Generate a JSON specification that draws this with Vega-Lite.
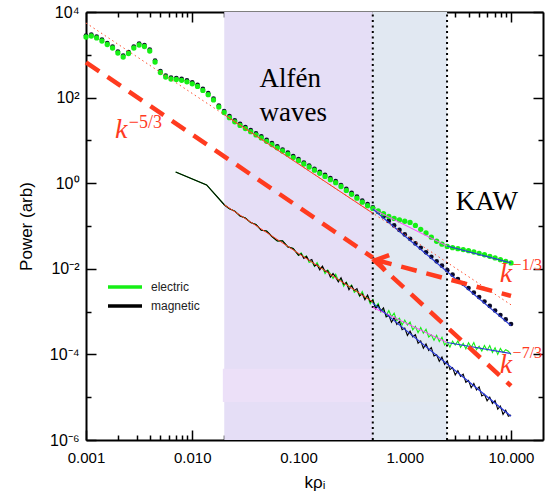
{
  "$schema": "https://vega.github.io/schema/vega-lite/v6.json",
  "width": 457,
  "height": 428,
  "autosize": {"type": "none"},
  "padding": {"left": 86, "top": 12, "right": 2, "bottom": 54},
  "background": "white",
  "config": {"view": {"stroke": null}},
  "datasets": {
    "upper": [
      {"k":0.001,"electric":2606,"magnetic":2606},
      {"k":0.001122,"electric":2748,"magnetic":2748},
      {"k":0.001259,"electric":2472,"magnetic":2472},
      {"k":0.001413,"electric":2099,"magnetic":2099},
      {"k":0.001585,"electric":1740,"magnetic":1740},
      {"k":0.001778,"electric":1442,"magnetic":1442},
      {"k":0.001995,"electric":1102,"magnetic":1102},
      {"k":0.002239,"electric":889,"magnetic":889},
      {"k":0.002512,"electric":1072,"magnetic":1072},
      {"k":0.002818,"electric":1442,"magnetic":1442},
      {"k":0.003162,"electric":1694,"magnetic":1694},
      {"k":0.003548,"electric":1563,"magnetic":1563},
      {"k":0.003981,"electric":1227,"magnetic":1227},
      {"k":0.004467,"electric":679,"magnetic":679},
      {"k":0.005012,"electric":386,"magnetic":386},
      {"k":0.005623,"electric":303,"magnetic":303},
      {"k":0.00631,"electric":272,"magnetic":272},
      {"k":0.007079,"electric":265,"magnetic":265},
      {"k":0.007943,"electric":254,"magnetic":254},
      {"k":0.008913,"electric":234,"magnetic":234},
      {"k":0.01,"electric":210,"magnetic":210},
      {"k":0.01122,"electric":182,"magnetic":182},
      {"k":0.01259,"electric":147,"magnetic":147},
      {"k":0.01413,"electric":117,"magnetic":117},
      {"k":0.01585,"electric":88,"magnetic":88},
      {"k":0.01778,"electric":60.3,"magnetic":60.3},
      {"k":0.01995,"electric":44.9,"magnetic":44.9},
      {"k":0.02239,"electric":33.9,"magnetic":33.9},
      {"k":0.02512,"electric":27.2,"magnetic":27.2},
      {"k":0.02818,"electric":22.4,"magnetic":22.4},
      {"k":0.03162,"electric":18.9,"magnetic":18.9},
      {"k":0.03548,"electric":16.0,"magnetic":16.0},
      {"k":0.03981,"electric":13.4,"magnetic":13.4},
      {"k":0.04467,"electric":11.4,"magnetic":11.4},
      {"k":0.05012,"electric":9.53,"magnetic":9.53},
      {"k":0.05623,"electric":7.98,"magnetic":7.98},
      {"k":0.0631,"electric":6.71,"magnetic":6.71},
      {"k":0.07079,"electric":5.65,"magnetic":5.65},
      {"k":0.07943,"electric":4.76,"magnetic":4.76},
      {"k":0.08913,"electric":3.98,"magnetic":3.98},
      {"k":0.1,"electric":3.36,"magnetic":3.36},
      {"k":0.1122,"electric":2.81,"magnetic":2.81},
      {"k":0.1259,"electric":2.39,"magnetic":2.39},
      {"k":0.1413,"electric":2.01,"magnetic":2.01},
      {"k":0.1585,"electric":1.70,"magnetic":1.70},
      {"k":0.1778,"electric":1.44,"magnetic":1.44},
      {"k":0.1995,"electric":1.21,"magnetic":1.21},
      {"k":0.2239,"electric":1.03,"magnetic":1.03},
      {"k":0.2512,"electric":0.838,"magnetic":0.838},
      {"k":0.2818,"electric":0.679,"magnetic":0.679},
      {"k":0.3162,"electric":0.551,"magnetic":0.551},
      {"k":0.3548,"electric":0.447,"magnetic":0.447},
      {"k":0.3981,"electric":0.360,"magnetic":0.360},
      {"k":0.4467,"electric":0.298,"magnetic":0.298},
      {"k":0.5012,"electric":0.258,"magnetic":0.25},
      {"k":0.5623,"electric":0.224,"magnetic":0.196},
      {"k":0.631,"electric":0.194,"magnetic":0.154},
      {"k":0.7079,"electric":0.167,"magnetic":0.121},
      {"k":0.7943,"electric":0.150,"magnetic":0.0953},
      {"k":0.8913,"electric":0.139,"magnetic":0.0748},
      {"k":1.0,"electric":0.129,"magnetic":0.0587},
      {"k":1.122,"electric":0.121,"magnetic":0.0463},
      {"k":1.259,"electric":0.103,"magnetic":0.0362},
      {"k":1.413,"electric":0.0838,"magnetic":0.0286},
      {"k":1.585,"electric":0.0686,"magnetic":0.0224},
      {"k":1.778,"electric":0.0547,"magnetic":0.0176},
      {"k":1.995,"electric":0.0440,"magnetic":0.0138},
      {"k":2.239,"electric":0.0376,"magnetic":0.0109},
      {"k":2.512,"electric":0.0333,"magnetic":0.00855},
      {"k":2.818,"electric":0.0311,"magnetic":0.00671},
      {"k":3.162,"electric":0.0296,"magnetic":0.0053},
      {"k":3.548,"electric":0.0282,"magnetic":0.00416},
      {"k":3.981,"electric":0.0265,"magnetic":0.00327},
      {"k":4.467,"electric":0.0247,"magnetic":0.00256},
      {"k":5.012,"electric":0.0229,"magnetic":0.00202},
      {"k":5.623,"electric":0.0213,"magnetic":0.00158},
      {"k":6.31,"electric":0.0196,"magnetic":0.00125},
      {"k":7.079,"electric":0.0179,"magnetic":0.00098},
      {"k":7.943,"electric":0.0163,"magnetic":0.000769},
      {"k":8.913,"electric":0.0149,"magnetic":0.000607},
      {"k":10.0,"electric":0.0137,"magnetic":0.000473}
    ],
    "lower": [
      {"k":0.00698,"electric":1.83,"magnetic":1.83},
      {"k":0.01365,"electric":0.908,"magnetic":0.908},
      {"k":0.0201,"electric":0.31,"magnetic":0.31},
      {"k":0.02239,"electric":0.2535,"magnetic":0.2535},
      {"k":0.02512,"electric":0.2228,"magnetic":0.2228},
      {"k":0.02818,"electric":0.1714,"magnetic":0.1714},
      {"k":0.03162,"electric":0.1538,"magnetic":0.1538},
      {"k":0.03548,"electric":0.12,"magnetic":0.12},
      {"k":0.03981,"electric":0.1079,"magnetic":0.1079},
      {"k":0.04467,"electric":0.0794,"magnetic":0.0794},
      {"k":0.05012,"electric":0.0764,"magnetic":0.0764},
      {"k":0.05623,"electric":0.0569,"magnetic":0.0569},
      {"k":0.0631,"electric":0.0447,"magnetic":0.0447},
      {"k":0.07079,"electric":0.0449,"magnetic":0.0449},
      {"k":0.07943,"electric":0.0325,"magnetic":0.0325},
      {"k":0.08913,"electric":0.03,"magnetic":0.03},
      {"k":0.1,"electric":0.0206,"magnetic":0.0206},
      {"k":0.1059,"electric":0.02344,"magnetic":0.02239},
      {"k":0.1122,"electric":0.01862,"magnetic":0.01738},
      {"k":0.1189,"electric":0.01991,"magnetic":0.01945},
      {"k":0.1259,"electric":0.01409,"magnetic":0.01545},
      {"k":0.1334,"electric":0.01507,"magnetic":0.01652},
      {"k":0.1413,"electric":0.0114,"magnetic":0.01167},
      {"k":0.1496,"electric":0.01403,"magnetic":0.0125},
      {"k":0.1585,"electric":0.01038,"magnetic":0.00946},
      {"k":0.1679,"electric":0.01086,"magnetic":0.01164},
      {"k":0.1778,"electric":0.00767,"magnetic":0.00861},
      {"k":0.1884,"electric":0.00942,"magnetic":0.009},
      {"k":0.1995,"electric":0.00766,"magnetic":0.00637},
      {"k":0.2113,"electric":0.00593,"magnetic":0.00782},
      {"k":0.2239,"electric":0.00746,"magnetic":0.00635},
      {"k":0.2371,"electric":0.00527,"magnetic":0.00492},
      {"k":0.2512,"electric":0.00577,"magnetic":0.00618},
      {"k":0.2661,"electric":0.0039,"magnetic":0.00438},
      {"k":0.2818,"electric":0.0049,"magnetic":0.00479},
      {"k":0.2985,"electric":0.00372,"magnetic":0.00324},
      {"k":0.3162,"electric":0.00416,"magnetic":0.00406},
      {"k":0.335,"electric":0.00281,"magnetic":0.00308},
      {"k":0.3548,"electric":0.00315,"magnetic":0.00345},
      {"k":0.3758,"electric":0.00228,"magnetic":0.00233},
      {"k":0.3981,"electric":0.00293,"magnetic":0.00261},
      {"k":0.4217,"electric":0.00202,"magnetic":0.00189},
      {"k":0.4467,"electric":0.00226,"magnetic":0.00243},
      {"k":0.4732,"electric":0.00153,"magnetic":0.00168},
      {"k":0.5012,"electric":0.00192,"magnetic":0.00188},
      {"k":0.5309,"electric":0.001268,"magnetic":0.001172},
      {"k":0.5623,"electric":0.001542,"magnetic":0.001436},
      {"k":0.5957,"electric":0.000982,"magnetic":0.001038},
      {"k":0.631,"electric":0.001114,"magnetic":0.001216},
      {"k":0.6683,"electric":0.000796,"magnetic":0.000748},
      {"k":0.7079,"electric":0.001062,"magnetic":0.000817},
      {"k":0.7499,"electric":0.000759,"magnetic":0.000564},
      {"k":0.7943,"electric":0.000923,"magnetic":0.000724},
      {"k":0.8414,"electric":0.000615,"magnetic":0.0005},
      {"k":0.8913,"electric":0.000698,"magnetic":0.000585},
      {"k":0.9441,"electric":0.000489,"magnetic":0.000377},
      {"k":1.0,"electric":0.000635,"magnetic":0.000412},
      {"k":1.059,"electric":0.000486,"magnetic":0.000278},
      {"k":1.122,"electric":0.000568,"magnetic":0.000348},
      {"k":1.189,"electric":0.000375,"magnetic":0.000258},
      {"k":1.259,"electric":0.000452,"magnetic":0.000288},
      {"k":1.334,"electric":0.00032,"magnetic":0.000182},
      {"k":1.413,"electric":0.000423,"magnetic":0.000207},
      {"k":1.496,"electric":0.000313,"magnetic":0.00014},
      {"k":1.585,"electric":0.000386,"magnetic":0.000176},
      {"k":1.679,"electric":0.000255,"magnetic":0.000124},
      {"k":1.778,"electric":0.000287,"magnetic":0.000145},
      {"k":1.884,"electric":0.000213,"magnetic":0.0000914},
      {"k":1.995,"electric":0.000281,"magnetic":0.0000977},
      {"k":2.113,"electric":0.000199,"magnetic":0.000069},
      {"k":2.239,"electric":0.000251,"magnetic":0.0000865},
      {"k":2.371,"electric":0.000166,"magnetic":0.0000583},
      {"k":2.512,"electric":0.000197,"magnetic":0.00007},
      {"k":2.661,"electric":0.000147,"magnetic":0.0000441},
      {"k":2.818,"electric":0.000204,"magnetic":0.0000492},
      {"k":2.985,"electric":0.000166,"magnetic":0.0000332},
      {"k":3.162,"electric":0.000206,"magnetic":0.0000417},
      {"k":3.35,"electric":0.000147,"magnetic":0.0000308},
      {"k":3.548,"electric":0.000181,"magnetic":0.0000344},
      {"k":3.758,"electric":0.000135,"magnetic":0.0000222},
      {"k":3.981,"electric":0.000187,"magnetic":0.0000248},
      {"k":4.217,"electric":0.000146,"magnetic":0.0000167},
      {"k":4.467,"electric":0.000189,"magnetic":0.000021},
      {"k":4.732,"electric":0.000129,"magnetic":0.0000148},
      {"k":5.012,"electric":0.000155,"magnetic":0.0000174},
      {"k":5.309,"electric":0.00012,"magnetic":0.0000107},
      {"k":5.623,"electric":0.000162,"magnetic":0.0000117},
      {"k":5.957,"electric":0.000125,"magnetic":0.00000824},
      {"k":6.31,"electric":0.000161,"magnetic":0.0000101},
      {"k":6.683,"electric":0.000111,"magnetic":0.00000714},
      {"k":7.079,"electric":0.000143,"magnetic":0.00000836},
      {"k":7.499,"electric":0.0001,"magnetic":0.00000526},
      {"k":7.943,"electric":0.000138,"magnetic":0.00000617},
      {"k":8.414,"electric":0.00011,"magnetic":0.00000397},
      {"k":8.913,"electric":0.000129,"magnetic":0.00000498},
      {"k":9.441,"electric":0.000119,"magnetic":0.0000036},
      {"k":10.0,"electric":0.0000991,"magnetic":0.00000385}
    ]
  },
  "layer": [
    {
      "encoding": {
        "x": {
          "field": "k", "type": "quantitative",
          "scale": {"type": "log", "domain": [0.001, 20], "nice": false},
          "axis": {
            "orient": "bottom",
            "values": [0.001,0.002,0.003,0.004,0.005,0.006,0.007,0.008,0.009,0.01,0.02,0.03,0.04,0.05,0.06,0.07,0.08,0.09,0.1,0.2,0.3,0.4,0.5,0.6,0.7,0.8,0.9,1,2,3,4,5,6,7,8,9,10],
            "labelExpr": "abs(log(datum.value)/LN10 - round(log(datum.value)/LN10)) < 0.001 ? format(datum.value, '.3f') : ''",
            "labelOverlap": false, "labelFlush": false,
            "labelFont": "Liberation Sans", "labelFontSize": 15, "labelColor": "#000",
            "labelPadding": 20,
            "tickSize": {"condition": {"test": "abs(log(datum.value)/LN10 - round(log(datum.value)/LN10)) < 0.001", "value": -10}, "value": -5},
            "tickColor": "#000", "tickWidth": 1.5,
            "domainColor": "#000", "domainWidth": 2,
            "grid": false,
            "title": "kρᵢ", "titleFont": "Liberation Sans", "titleFontSize": 17, "titleFontWeight": "normal", "titleColor": "#000", "titlePadding": 4
          }
        },
        "y": {
          "field": "P", "type": "quantitative",
          "scale": {"type": "log", "domain": [0.000001, 10000], "nice": false},
          "axis": {
            "orient": "left",
            "values": [0.000001,0.00001,0.0001,0.001,0.01,0.1,1,10,100,1000,10000],
            "labelExpr": "['10⁻⁶','','10⁻⁴','','10⁻²','','10⁰','','10²','','10⁴'][round(log(datum.value)/LN10)+6]",
            "labelOverlap": false, "labelFlush": false,
            "labelFont": "Liberation Sans", "labelFontSize": 16, "labelColor": "#000",
            "labelPadding": 17,
            "tickSize": {"condition": {"test": "round(log(datum.value)/LN10) % 2 == 0", "value": -10}, "value": -5},
            "tickColor": "#000", "tickWidth": 1.5,
            "domainColor": "#000", "domainWidth": 2,
            "grid": false,
            "title": "Power (arb)", "titleFont": "Liberation Sans", "titleFontSize": 17, "titleFontWeight": "normal", "titleColor": "#000", "titlePadding": 14
          }
        }
      },
      "layer": [
        {"data": {"values": [{"k":0.02,"k2":0.5,"P":0.000001,"P2":10000}]}, "mark": {"type":"rect","fill":"#e5def6"}, "encoding": {"x2":{"field":"k2"},"y2":{"field":"P2"}}},
        {"data": {"values": [{"k":0.5,"k2":2.5,"P":0.000001,"P2":10000}]}, "mark": {"type":"rect","fill":"#e1e8f2"}, "encoding": {"x2":{"field":"k2"},"y2":{"field":"P2"}}},
        {"data": {"values": [{"k":0.0194,"k2":0.5,"P":0.0000077,"P2":0.000046}]}, "mark": {"type":"rect","fill":"#ece0f8"}, "encoding": {"x2":{"field":"k2"},"y2":{"field":"P2"}}},
        {"data": {"values": [{"k":0.5,"k2":2.5,"P":0.0000077,"P2":0.000046}]}, "mark": {"type":"rect","fill":"#e3e8ee"}, "encoding": {"x2":{"field":"k2"},"y2":{"field":"P2"}}},
        {"data": {"values": [{"k":0.5,"P":0.000001,"P2":10000},{"k":2.5,"P":0.000001,"P2":10000}]}, "mark": {"type":"rule","color":"#000","strokeWidth":2,"strokeDash":[2,3.5]}, "encoding": {"y2":{"field":"P2"}}},
        {
          "data": {"name": "lower"},
          "transform": [{"fold": ["electric","magnetic"], "as": ["s","P"]}],
          "mark": {"type": "line", "strokeWidth": 1.1},
          "encoding": {
            "color": {
              "field": "s", "type": "nominal",
              "scale": {"domain": ["electric","magnetic"], "range": ["#16ef16","#000000"]},
              "legend": {"orient": "none", "legendX": 27, "legendY": 263, "title": null, "symbolType": "M-1.7,0H1.7", "symbolSize": 400, "symbolStrokeWidth": 3.5, "labelFont": "Liberation Sans", "labelFontSize": 12, "labelColor": "#222", "labelOffset": 14, "rowPadding": -3, "padding": 0}
            }
          }
        },
        {
          "data": {"name": "upper"},
          "transform": [{"fold": ["electric","magnetic"], "as": ["s","P"]}, {"filter": "datum.s == 'magnetic'"}],
          "mark": {"type": "point", "filled": true, "size": 22, "color": "#0a0a28", "opacity": 1, "yOffset": -1.5}
        },
        {
          "data": {"name": "upper"},
          "transform": [{"fold": ["electric","magnetic"], "as": ["s","P"]}, {"filter": "datum.s == 'electric'"}],
          "mark": {"type": "point", "filled": true, "size": 28, "color": "#16ef16", "opacity": 1}
        },
        {"data": {"values": [{"k":0.02,"P":39.9,"k2":0.5,"P2":0.199},{"k":0.02,"P":0.313,"k2":0.5,"P2":0.00168}]}, "mark": {"type":"rule","color":"#ff3b1f","strokeWidth":1}, "encoding": {"x2":{"field":"k2"},"y2":{"field":"P2"}}},
        {"data": {"values": [{"k":0.5,"P":0.249,"k2":2.5,"P2":0.0341},{"k":0.5,"P":0.00125,"k2":2.5,"P2":0.00019}]}, "mark": {"type":"rule","color":"#ff44ff","strokeWidth":1}, "encoding": {"x2":{"field":"k2"},"y2":{"field":"P2"}}},
        {"data": {"values": [{"k":2.5,"P":0.0341,"k2":10,"P2":0.0137},{"k":0.5,"P":0.25,"k2":10,"P2":0.000473},{"k":2.5,"P":0.00019,"k2":10,"P2":0.000105},{"k":0.5,"P":0.00158,"k2":10,"P2":0.0000036}]}, "mark": {"type":"rule","color":"#2a3ad8","strokeWidth":1.2}, "encoding": {"x2":{"field":"k2"},"y2":{"field":"P2"}}},
        {"data": {"values": [{"k":0.001,"P":5530,"k2":10,"P2":0.00144}]}, "mark": {"type":"rule","color":"#ff5030","strokeWidth":1,"strokeDash":[1.5,3]}, "encoding": {"x2":{"field":"k2"},"y2":{"field":"P2"}}},
        {"data": {"values": [{"k":0.001,"P":668,"k2":0.5,"P2":0.0183},{"k":0.537,"P":0.01607,"k2":10,"P2":0.00233},{"k":0.5,"P":0.01694,"k2":10,"P2":0.0000184}]}, "mark": {"type":"rule","color":"#ff3b1f","strokeWidth":4.5,"strokeDash":[16,10]}, "encoding": {"x2":{"field":"k2"},"y2":{"field":"P2"}}},
        {"data": {"values": [{"k":0.537,"P":0.01607}]}, "mark": {"type":"point","shape":"M1.87,-0.7L0,0L1.3,1.53","size":196,"filled":false,"stroke":"#ff3b1f","strokeWidth":4.5,"opacity":1}},
        {"data": {"values": [{"k":0.0429,"P":177,"t":"Alfén"},{"k":0.0429,"P":28.4,"t":"waves"},{"k":3.02,"P":0.233,"t":"KAW"}]}, "mark": {"type":"text","align":"left","baseline":"alphabetic","font":"Liberation Serif","fontSize":27,"color":"#000"}, "encoding": {"text":{"field":"t"}}},
        {"data": {"values": [{"k":0.00187,"P":11.4,"t":"k"},{"k":7.82,"P":0.00492,"t":"k"},{"k":7.82,"P":0.0000367,"t":"k"}]}, "mark": {"type":"text","align":"left","baseline":"alphabetic","font":"Liberation Serif","fontStyle":"italic","fontSize":28,"color":"#ff3b1f"}, "encoding": {"text":{"field":"t"}}},
        {"data": {"values": [{"k":0.00253,"P":19.5,"t":"−5/3"}]}, "mark": {"type":"text","align":"left","baseline":"alphabetic","font":"Liberation Serif","fontSize":18,"color":"#ff3b1f"}, "encoding": {"text":{"field":"t"}}},
        {"data": {"values": [{"k":10.35,"P":0.00937,"t":"−1/3"},{"k":10.35,"P":0.0000824,"t":"−7/3"}]}, "mark": {"type":"text","align":"left","baseline":"alphabetic","font":"Liberation Serif","fontSize":16,"color":"#ff3b1f"}, "encoding": {"text":{"field":"t"}}}
      ]
    },
    {
      "data": {"values": [{"k": 0.001, "P": 0.000001}]},
      "mark": {"type": "point", "opacity": 0},
      "encoding": {
        "x": {
          "field": "k", "type": "quantitative",
          "scale": {"type": "log", "domain": [0.001, 20], "nice": false},
          "axis": {
            "orient": "top", "labels": false, "title": null, "grid": false,
            "values": [0.001,0.002,0.003,0.004,0.005,0.006,0.007,0.008,0.009,0.01,0.02,0.03,0.04,0.05,0.06,0.07,0.08,0.09,0.1,0.2,0.3,0.4,0.5,0.6,0.7,0.8,0.9,1,2,3,4,5,6,7,8,9,10],
            "tickSize": {"condition": {"test": "abs(log(datum.value)/LN10 - round(log(datum.value)/LN10)) < 0.001", "value": -10}, "value": -5},
            "tickColor": "#000", "tickWidth": 1.5, "domainColor": "#000", "domainWidth": 2
          }
        },
        "y": {
          "field": "P", "type": "quantitative",
          "scale": {"type": "log", "domain": [0.000001, 10000], "nice": false},
          "axis": {
            "orient": "right", "labels": false, "title": null, "grid": false,
            "values": [0.000001,0.00001,0.0001,0.001,0.01,0.1,1,10,100,1000,10000],
            "tickSize": {"condition": {"test": "round(log(datum.value)/LN10) % 2 == 0", "value": -10}, "value": -5},
            "tickColor": "#000", "tickWidth": 1.5, "domainColor": "#000", "domainWidth": 2
          }
        }
      }
    }
  ],
  "resolve": {"axis": {"x": "independent", "y": "independent"}}
}
